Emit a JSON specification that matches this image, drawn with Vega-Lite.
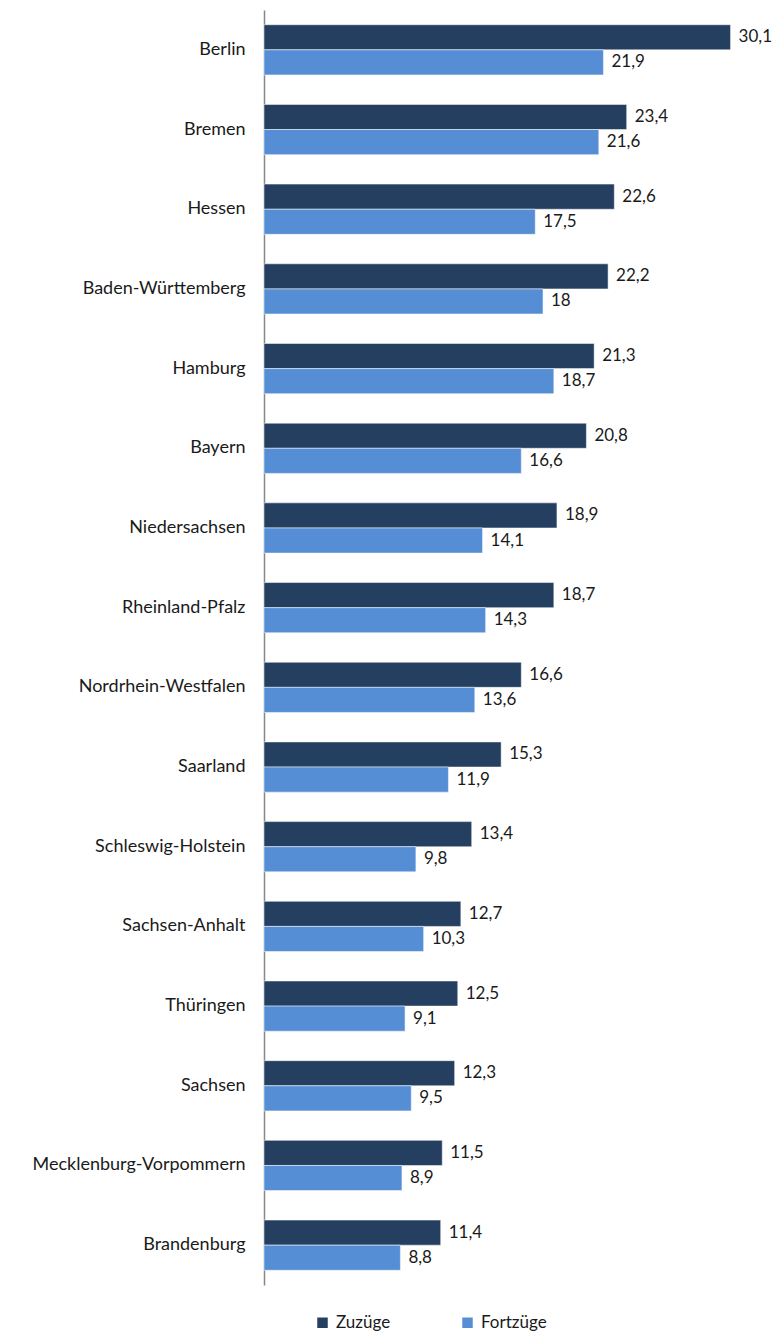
{
  "$schema": "https://vega.github.io/schema/vega-lite/v6.json",
  "autosize": "none",
  "padding": {"left": 264, "top": 10, "right": 22, "bottom": 50},
  "width": 496,
  "height": 1275,
  "config": {
    "locale": {"number": {"decimal": ",", "thousands": ".", "grouping": [3], "currency": ["", " €"]}},
    "view": {"stroke": null},
    "font": "Lato"
  },
  "data": {
    "values": [
      {"land": "Berlin", "art": "Zuzüge", "wert": 30.1},
      {"land": "Berlin", "art": "Fortzüge", "wert": 21.9},
      {"land": "Bremen", "art": "Zuzüge", "wert": 23.4},
      {"land": "Bremen", "art": "Fortzüge", "wert": 21.6},
      {"land": "Hessen", "art": "Zuzüge", "wert": 22.6},
      {"land": "Hessen", "art": "Fortzüge", "wert": 17.5},
      {"land": "Baden-Württemberg", "art": "Zuzüge", "wert": 22.2},
      {"land": "Baden-Württemberg", "art": "Fortzüge", "wert": 18},
      {"land": "Hamburg", "art": "Zuzüge", "wert": 21.3},
      {"land": "Hamburg", "art": "Fortzüge", "wert": 18.7},
      {"land": "Bayern", "art": "Zuzüge", "wert": 20.8},
      {"land": "Bayern", "art": "Fortzüge", "wert": 16.6},
      {"land": "Niedersachsen", "art": "Zuzüge", "wert": 18.9},
      {"land": "Niedersachsen", "art": "Fortzüge", "wert": 14.1},
      {"land": "Rheinland-Pfalz", "art": "Zuzüge", "wert": 18.7},
      {"land": "Rheinland-Pfalz", "art": "Fortzüge", "wert": 14.3},
      {"land": "Nordrhein-Westfalen", "art": "Zuzüge", "wert": 16.6},
      {"land": "Nordrhein-Westfalen", "art": "Fortzüge", "wert": 13.6},
      {"land": "Saarland", "art": "Zuzüge", "wert": 15.3},
      {"land": "Saarland", "art": "Fortzüge", "wert": 11.9},
      {"land": "Schleswig-Holstein", "art": "Zuzüge", "wert": 13.4},
      {"land": "Schleswig-Holstein", "art": "Fortzüge", "wert": 9.8},
      {"land": "Sachsen-Anhalt", "art": "Zuzüge", "wert": 12.7},
      {"land": "Sachsen-Anhalt", "art": "Fortzüge", "wert": 10.3},
      {"land": "Thüringen", "art": "Zuzüge", "wert": 12.5},
      {"land": "Thüringen", "art": "Fortzüge", "wert": 9.1},
      {"land": "Sachsen", "art": "Zuzüge", "wert": 12.3},
      {"land": "Sachsen", "art": "Fortzüge", "wert": 9.5},
      {"land": "Mecklenburg-Vorpommern", "art": "Zuzüge", "wert": 11.5},
      {"land": "Mecklenburg-Vorpommern", "art": "Fortzüge", "wert": 8.9},
      {"land": "Brandenburg", "art": "Zuzüge", "wert": 11.4},
      {"land": "Brandenburg", "art": "Fortzüge", "wert": 8.8}
    ]
  },
  "encoding": {
    "y": {
      "field": "land",
      "type": "nominal",
      "sort": null,
      "scale": {"paddingInner": 0.37, "paddingOuter": 0.185},
      "axis": {
        "title": null,
        "ticks": false,
        "labelFontSize": 18,
        "labelColor": "#1a1a1a",
        "labelPadding": 19,
        "labelLimit": 300,
        "domainColor": "#888888",
        "domainWidth": 1.5
      }
    },
    "yOffset": {
      "field": "art",
      "type": "nominal",
      "sort": ["Zuzüge", "Fortzüge"],
      "scale": {"paddingInner": 0, "paddingOuter": 0}
    },
    "x": {
      "field": "wert",
      "type": "quantitative",
      "scale": {"domain": [0, 32], "nice": false},
      "axis": null
    }
  },
  "layer": [
    {
      "mark": {"type": "bar", "stroke": "#ffffff", "strokeWidth": 0.5},
      "encoding": {
        "color": {
          "field": "art",
          "type": "nominal",
          "sort": ["Zuzüge", "Fortzüge"],
          "scale": {"domain": ["Zuzüge", "Fortzüge"], "range": ["#253f61", "#558ed5"]},
          "legend": {
            "title": null,
            "orient": "none",
            "direction": "horizontal",
            "legendX": 50,
            "legendY": 1304,
            "symbolType": "square",
            "symbolSize": 110,
            "symbolStrokeWidth": 0,
            "labelFontSize": 17,
            "labelColor": "#1a1a1a",
            "labelOffset": 5,
            "columnPadding": 68
          }
        }
      }
    },
    {
      "mark": {"type": "text", "align": "left", "baseline": "middle", "dx": 8, "fontSize": 17, "color": "#1a1a1a"},
      "encoding": {
        "text": {"field": "wert", "type": "quantitative", "format": "~g"}
      }
    }
  ]
}
